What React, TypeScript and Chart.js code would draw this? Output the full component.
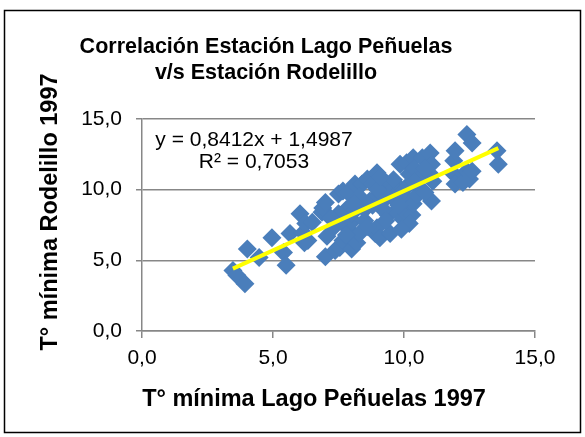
import React, { useEffect, useRef } from "react";
import { Chart, registerables } from "chart.js";

Chart.register(...registerables);

// ---- data ----
const xValues = [
  3.47, 3.62, 3.93, 4.02, 4.47, 4.96, 5.4, 5.5, 5.65, 6.03,
  6.15, 6.25, 6.33, 6.2, 6.5, 6.87, 6.9, 7.0, 7.06, 7.0,
  7.37, 7.55, 7.67, 7.44, 7.5, 7.67, 7.67, 7.8, 7.86, 7.94,
  8.0, 8.05, 8.13, 8.2, 8.2, 8.3, 8.4, 8.5, 8.6, 8.7,
  8.8, 8.97, 8.9, 8.97, 9.08, 9.2, 9.35, 9.4, 9.47, 9.58,
  9.7, 9.85, 9.85, 9.96, 9.96, 10.1, 10.1, 10.2, 10.2, 10.2,
  10.3, 10.35, 10.35, 10.4, 10.6, 10.6, 10.7, 11.0, 11.05, 11.0,
  11.1, 11.05, 11.9, 11.9, 11.95, 11.95, 12.25, 12.4, 12.5, 12.6,
  12.4, 12.6, 13.55, 13.6, 8.5, 8.8, 9.0, 9.2, 9.5, 9.8,
  10.0, 10.5, 8.0, 7.5, 8.3, 9.0, 10.8, 10.4, 9.6, 7.3,
  7.8, 8.6, 9.3, 9.8, 10.2, 9.9, 7.2, 8.1, 9.1, 10.8,
];
const yValues = [
  4.28, 3.95, 3.35, 5.8, 5.2, 6.6, 5.55, 4.65, 6.9, 8.3,
  6.95, 7.6, 6.4, 6.25, 7.7, 8.4, 8.7, 9.1, 6.7, 5.25,
  5.7, 5.9, 6.4, 7.9, 9.7, 7.6, 9.9, 8.6, 9.8, 7.1,
  5.8, 7.8, 10.4, 8.7, 6.25, 6.9, 10.4, 7.8, 10.75, 9.2,
  10.4, 11.2, 6.9, 7.3, 6.6, 9.2, 10.4, 8.2, 6.9, 9.4,
  8.5, 10.1, 11.8, 7.9, 9.4, 11.9, 8.3, 10.4, 9.2, 11.1,
  8.2, 12.25, 9.0, 11.5, 10.1, 10.8, 12.25, 12.6, 11.8, 11.1,
  10.6, 9.2, 12.05, 11.1, 12.75, 10.4, 10.5, 11.3, 10.75, 11.3,
  13.9, 13.3, 12.75, 11.8, 8.6, 8.9, 9.6, 8.6, 9.9, 9.8,
  10.0, 9.6, 8.3, 8.3, 9.5, 10.0, 9.8, 10.6, 10.7, 7.3,
  6.8, 7.4, 7.8, 8.9, 7.6, 7.2, 8.0, 9.0, 10.9, 11.5,
];
const trendSlope = 0.8412;
const trendIntercept = 1.4987;
const rSquared = 0.7053;
const axisTicks = [0, 5, 10, 15];
const titleLines = ["Correlación Estación Lago Peñuelas", "v/s Estación Rodelillo"];
const xAxisTitle = "T° mínima Lago Peñuelas 1997";
const yAxisTitle = "T° mínima Rodelillo 1997";

const FONT = '"Liberation Sans", Arial, sans-serif';
const GRID = "#878787";
const fmt = (v: number, d: number) => v.toFixed(d).replace(".", ",");

const textPlugin = {
  id: "excelTexts",
  afterDraw(chart: any) {
    const ctx = chart.ctx as CanvasRenderingContext2D;
    ctx.save();
    // outer frame
    ctx.strokeStyle = "#000";
    ctx.lineWidth = 1.5;
    ctx.strokeRect(4.5, 10.5, 576, 422);
    ctx.fillStyle = "#000";
    // title
    ctx.font = `bold 21.5px ${FONT}`;
    ctx.textAlign = "center";
    ctx.textBaseline = "alphabetic";
    ctx.fillText(titleLines[0], 266, 53);
    ctx.fillText(titleLines[1], 266, 79);
    // x axis title
    ctx.font = `bold 23.5px ${FONT}`;
    ctx.fillText(xAxisTitle, 314, 406);
    // y axis title
    ctx.save();
    ctx.translate(57, 212);
    ctx.rotate(-Math.PI / 2);
    ctx.fillText(yAxisTitle, 0, 0);
    ctx.restore();
    // trendline equation
    ctx.font = `21px ${FONT}`;
    ctx.fillText(`y = ${fmt(trendSlope, 4)}x + ${fmt(trendIntercept, 4)}`, 254, 146);
    ctx.fillText(`R² = ${fmt(rSquared, 4)}`, 254, 168);
    ctx.restore();
  },
};

export default function App() {
  const ref = useRef<HTMLCanvasElement | null>(null);
  useEffect(() => {
    document.body.style.margin = "0";
    const canvas = ref.current!;
    const points = xValues.map((x, i) => ({ x, y: yValues[i] }));
    const xMin = Math.min(...xValues);
    const xMax = Math.max(...xValues);
    const trend = [xMin, xMax].map((x) => ({ x, y: trendSlope * x + trendIntercept }));
    const tickFont = { family: FONT, size: 21 };
    const chart = new Chart(canvas, {
      type: "scatter",
      data: {
        datasets: [
          {
            type: "line",
            data: trend,
            borderColor: "#ffff00",
            borderWidth: 4,
            pointRadius: 0,
            fill: false,
            order: 0,
          } as any,
          {
            data: points,
            pointStyle: "rectRot",
            pointRadius: 9.5,
            backgroundColor: "#4a7ebb",
            borderColor: "#4a7ebb",
            borderWidth: 0,
            order: 1,
          },
        ],
      },
      options: {
        animation: false,
        responsive: false,
        devicePixelRatio: 1,
        layout: { padding: { left: 0, right: 50, top: 119, bottom: 0 } },
        plugins: { legend: { display: false }, tooltip: { enabled: false }, title: { display: false } },
        scales: {
          x: {
            type: "linear",
            min: 0,
            max: 15,
            afterFit: (s: any) => { s.height = 106; },
            afterBuildTicks: (s: any) => { s.ticks = axisTicks.map((v) => ({ value: v })); },
            ticks: { font: tickFont, color: "#000", padding: 8, callback: (v: any) => fmt(Number(v), 1) },
            grid: { drawOnChartArea: false, drawTicks: true, tickLength: 7, color: GRID, lineWidth: 1.5 },
            border: { display: true, color: GRID, width: 1.5 },
          },
          y: {
            type: "linear",
            min: 0,
            max: 15,
            afterFit: (s: any) => { s.width = 142; },
            afterBuildTicks: (s: any) => { s.ticks = axisTicks.map((v) => ({ value: v })); },
            ticks: { font: tickFont, color: "#000", padding: 14, callback: (v: any) => fmt(Number(v), 1) },
            grid: { drawOnChartArea: true, drawTicks: true, tickLength: 6, color: GRID, lineWidth: 1.5 },
            border: { display: true, color: GRID, width: 1.5 },
          },
        },
      },
      plugins: [textPlugin],
    });
    return () => chart.destroy();
  }, []);
  return <canvas ref={ref} width={585} height={437} style={{ display: "block" }} />;
}
